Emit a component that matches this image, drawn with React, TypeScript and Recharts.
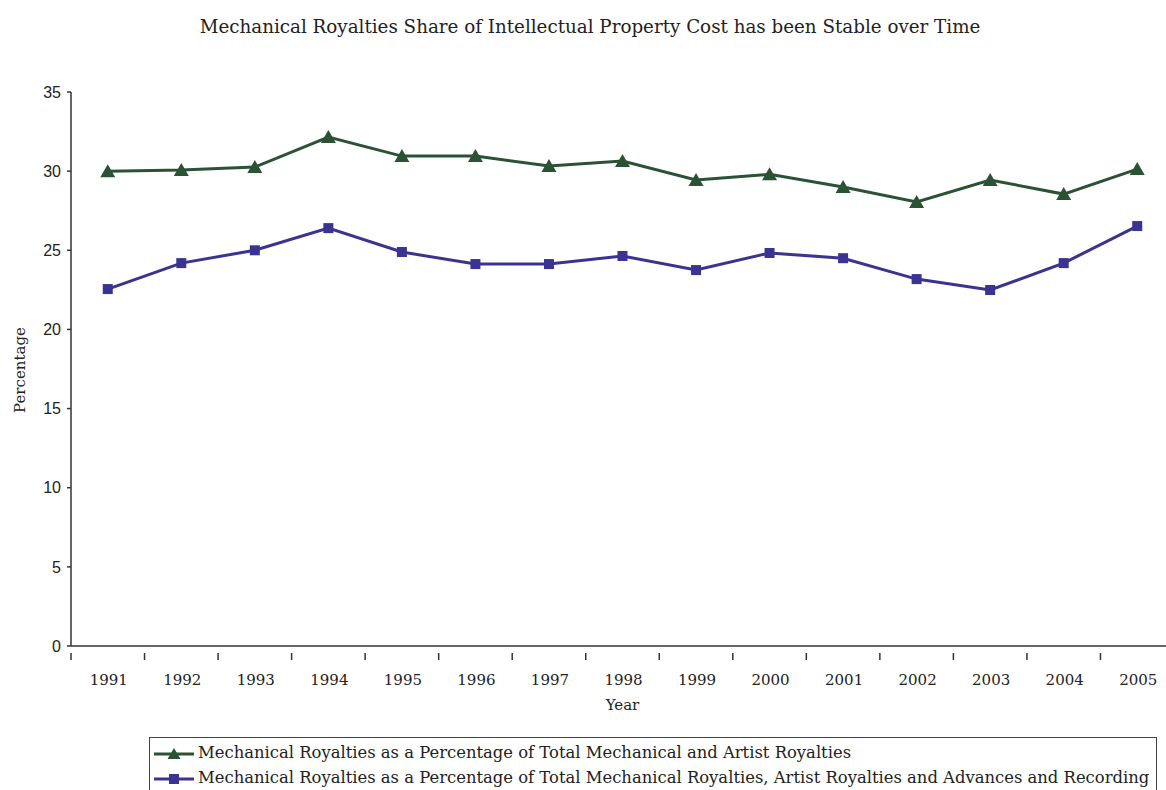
import React from 'react';
import { LineChart, Line, XAxis, YAxis, Label } from 'recharts';

const years = [1991, 1992, 1993, 1994, 1995, 1996, 1997, 1998, 1999, 2000, 2001, 2002, 2003, 2004, 2005];
// mechanical royalties / (mechanical + artist royalties), %
const artistShare = [30.0, 30.07, 30.26, 32.15, 30.95, 30.95, 30.32, 30.64, 29.44, 29.8, 29.0, 28.05, 29.44, 28.55, 30.13];
// mechanical royalties / (mechanical + artist royalties + advances and recording), %
const totalShare = [22.55, 24.19, 25.0, 26.4, 24.89, 24.13, 24.13, 24.64, 23.75, 24.83, 24.5, 23.18, 22.49, 24.19, 26.53];
const yTicks = [0, 5, 10, 15, 20, 25, 30, 35];

const seriesNames = [
  'Mechanical Royalties as a Percentage of Total Mechanical and Artist Royalties',
  'Mechanical Royalties as a Percentage of Total Mechanical Royalties, Artist Royalties and Advances and Recording',
];

const GREEN = '#2c5236';
const BLUE = '#3a3391';
const SERIF = '"DejaVu Serif", "Liberation Serif", serif';
const SANS = '"Liberation Sans", Arial, sans-serif';

const data = years.map((year, i) => ({ year, artist: artistShare[i], total: totalShare[i] }));

const CHART_W = 1200;
const CHART_H = 790;
const MARGIN = { top: 92, right: 26, bottom: 0, left: 11 };
const Y_AXIS_W = 60;
const PLOT_W = CHART_W - MARGIN.left - MARGIN.right - Y_AXIS_W;
const HALF_BAND = PLOT_W / years.length / 2;

const Triangle = (props: any) => {
  const { cx, cy } = props;
  if (cx == null || cy == null) return null;
  return <polygon points={`${cx - 7.5},${cy + 6} ${cx + 7.5},${cy + 6} ${cx},${cy - 7}`} fill={GREEN} />;
};

const Square = (props: any) => {
  const { cx, cy } = props;
  if (cx == null || cy == null) return null;
  return <rect x={cx - 5} y={cy - 5} width={10} height={10} fill={BLUE} />;
};

// year label centred in its band, tick mark on the band boundary
const YearTick = (props: any) => {
  const { x, y, payload } = props;
  return (
    <g>
      <line x1={x - HALF_BAND} x2={x - HALF_BAND} y1={y - 1} y2={y + 6} stroke="#333" strokeWidth={1.5} />
      <text x={x + 1} y={y + 31} textAnchor="middle" fontFamily={SERIF} fontSize={15} fill="#222">
        {payload.value}
      </text>
    </g>
  );
};

function LegendIcon({ color, marker }: { color: string; marker: 'triangle' | 'square' }) {
  return (
    <svg width={42} height={16} style={{ verticalAlign: 'middle', marginRight: 3 }}>
      <line x1={1} x2={41} y1={8} y2={8} stroke={color} strokeWidth={3} />
      {marker === 'triangle' ? (
        <polygon points="14.5,13 27.5,13 21,2" fill={color} />
      ) : (
        <rect x={16} y={3} width={10} height={10} fill={color} />
      )}
    </svg>
  );
}

export default function App() {
  return (
    <div style={{ position: 'absolute', left: 0, top: 0, width: 1166, height: 790, overflow: 'hidden', background: '#fff' }}>
      <div
        style={{
          position: 'absolute', top: 16, left: 0, width: 1180, textAlign: 'center',
          fontFamily: SERIF, fontSize: 18.3, color: '#222',
        }}
      >
        Mechanical Royalties Share of Intellectual Property Cost has been Stable over Time
      </div>

      <div style={{ position: 'absolute', left: 0, top: 0 }}>
        <LineChart width={CHART_W} height={CHART_H} data={data} margin={MARGIN}>
          <XAxis
            dataKey="year"
            type="number"
            domain={[1990.5, 2005.5]}
            ticks={years}
            interval={0}
            height={144}
            tickLine={false}
            tick={<YearTick />}
            stroke="#333"
            strokeWidth={1.5}
          >
            <Label
              content={({ viewBox }: any) => (
                <text x={viewBox.x + viewBox.width / 2} y={710} textAnchor="middle" fontFamily={SERIF} fontSize={15} fill="#222">
                  Year
                </text>
              )}
            />
          </XAxis>
          <YAxis
            domain={[0, 35]}
            ticks={yTicks}
            width={Y_AXIS_W}
            tickSize={4}
            tickMargin={6}
            stroke="#333"
            strokeWidth={1.5}
            tick={{ fill: '#222', fontFamily: SANS, fontSize: 16 }}
          >
            <Label
              content={({ viewBox }: any) => {
                const cy = viewBox.y + viewBox.height / 2 + 1;
                return (
                  <text x={25} y={cy} transform={`rotate(-90 25 ${cy})`} textAnchor="middle" fontFamily={SERIF} fontSize={15} fill="#222">
                    Percentage
                  </text>
                );
              }}
            />
          </YAxis>
          <Line
            dataKey="artist"
            name={seriesNames[0]}
            stroke={GREEN}
            strokeWidth={3}
            dot={<Triangle />}
            activeDot={false}
            isAnimationActive={false}
          />
          <Line
            dataKey="total"
            name={seriesNames[1]}
            stroke={BLUE}
            strokeWidth={3}
            dot={<Square />}
            activeDot={false}
            isAnimationActive={false}
          />
        </LineChart>
      </div>

      <div
        style={{
          position: 'absolute', left: 149, top: 737, width: 1008, height: 70,
          border: '1.5px solid #444', boxSizing: 'border-box', padding: '2px 0 0 3px',
          fontFamily: SERIF, fontSize: 16.4, color: '#222', lineHeight: '25px', whiteSpace: 'nowrap',
        }}
      >
        <div>
          <LegendIcon color={GREEN} marker="triangle" />
          {seriesNames[0]}
        </div>
        <div>
          <LegendIcon color={BLUE} marker="square" />
          {seriesNames[1]}
        </div>
      </div>
    </div>
  );
}
